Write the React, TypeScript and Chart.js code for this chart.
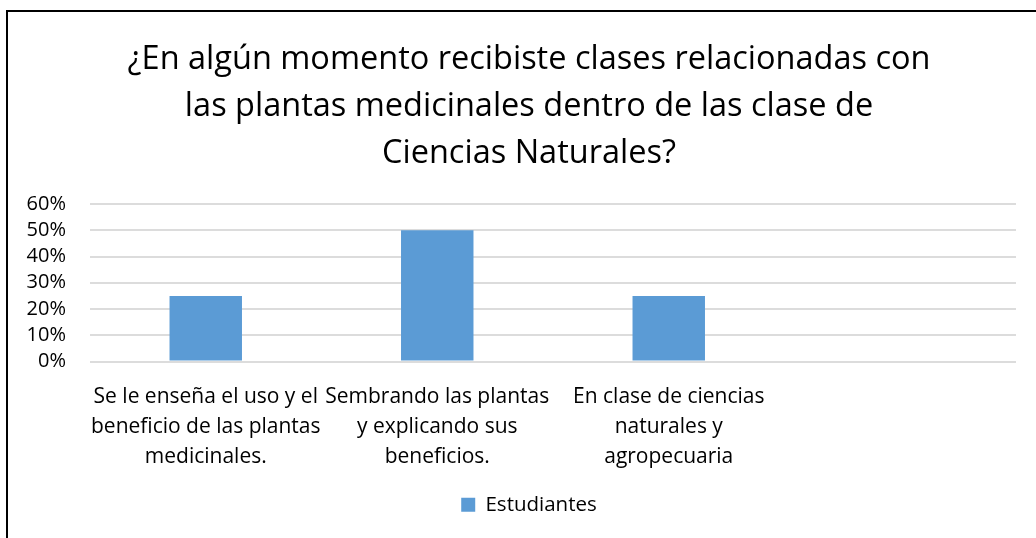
import React, { useEffect, useRef } from "react";
import { Chart, registerables } from "chart.js";

Chart.register(...registerables);

const FONT = "'Open Sans', 'Noto Sans', sans-serif";

const titleLines = [
  "¿En algún momento recibiste clases relacionadas con",
  "las plantas medicinales dentro de las clase de",
  "Ciencias Naturales?",
];

const categories: (string | string[])[] = [
  ["Se le enseña el uso y el", "beneficio de las plantas", "medicinales."],
  ["Sembrando las plantas", "y explicando sus", "beneficios."],
  ["En clase de ciencias", "naturales y", "agropecuaria"],
  "",
];

const seriesName = "Estudiantes";
const seriesValues: (number | null)[] = [0.25, 0.5, 0.25, null];

const yTickLabels = ["0%", "10%", "20%", "30%", "40%", "50%", "60%"];
const yMax = 0.6;
const yStep = 0.1;

export default function App() {
  const ref = useRef<HTMLCanvasElement>(null);

  useEffect(() => {
    const chart = new Chart(ref.current!, {
      type: "bar",
      data: {
        labels: categories,
        datasets: [
          {
            label: seriesName,
            data: seriesValues,
            backgroundColor: "#5B9BD5",
            borderWidth: 0,
            categoryPercentage: 1,
            barPercentage: 0.313,
            yAxisID: "y",
          },
        ],
      },
      options: {
        responsive: false,
        animation: false,
        layout: { padding: { left: 0, right: 0, top: 0, bottom: 13 } },
        plugins: {
          title: {
            display: true,
            text: titleLines,
            color: "#000",
            font: { family: FONT, size: 32.5, weight: "normal", lineHeight: "47px" },
            padding: { top: 36, bottom: 27 },
          },
          legend: {
            position: "bottom",
            labels: {
              boxWidth: 14,
              boxHeight: 14,
              padding: 1,
              color: "#000",
              font: { family: FONT, size: 20.5 },
            },
          },
          tooltip: { enabled: false },
        },
        scales: {
          x: {
            grid: { display: false, drawTicks: false },
            border: { display: false },
            ticks: {
              autoSkip: false,
              maxRotation: 0,
              minRotation: 0,
              padding: 21,
              color: "#000",
              font: { family: FONT, size: 21, lineHeight: "30px" },
            },
          },
          y: {
            position: "left",
            min: 0,
            max: yMax,
            grid: { color: "#dcdcdc", lineWidth: 2, drawTicks: false },
            border: { display: false },
            ticks: {
              stepSize: yStep,
              autoSkip: false,
              padding: 24,
              color: "#000",
              font: { family: FONT, size: 20, lineHeight: "16px" },
              callback: (_v: any, i: number) => yTickLabels[i],
            },
            afterFit: (s: any) => {
              s.width = 90;
            },
          },
          yRight: {
            type: "linear",
            position: "right",
            display: true,
            grid: { display: false, drawTicks: false },
            border: { display: false },
            ticks: { display: false },
            afterFit: (s: any) => {
              s.width = 42;
            },
          },
        },
      },
    } as any);
    return () => chart.destroy();
  }, []);

  return (
    <div
      style={{
        position: "fixed",
        left: 0,
        top: 0,
        width: 1036,
        height: 538,
        overflow: "hidden",
        background: "#fff",
      }}
    >
      <div
        style={{
          position: "absolute",
          left: 6,
          top: 10,
          width: 1200,
          height: 700,
          border: "2px solid #000",
        }}
      />
      <canvas
        ref={ref}
        width={1058}
        height={538}
        style={{ position: "absolute", left: 0, top: 0 }}
      />
    </div>
  );
}
